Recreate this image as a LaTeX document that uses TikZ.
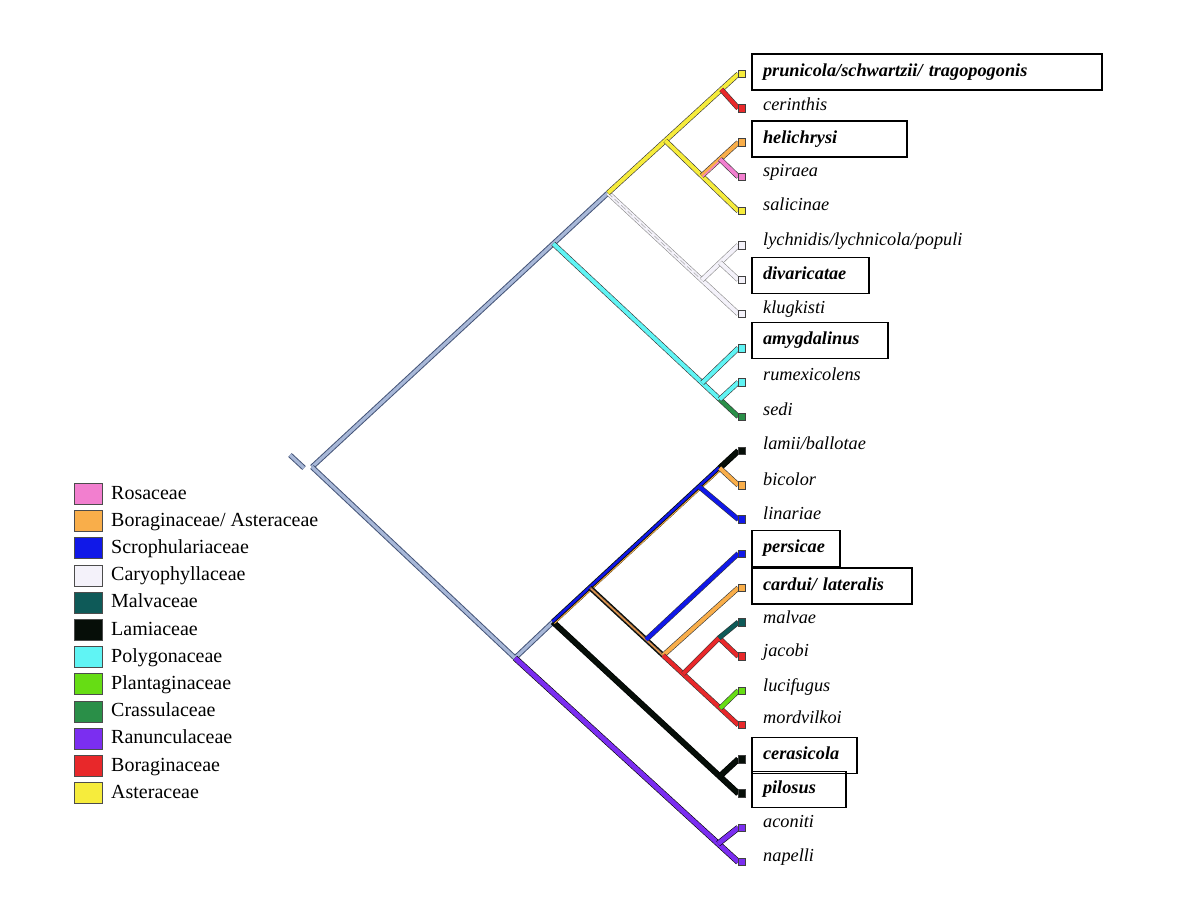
\documentclass[tikz,border=0pt]{standalone}
\usepackage{fontspec}
\setmainfont{Liberation Serif}
\usetikzlibrary{calc}
\definecolor{ros}{HTML}{F27FCF}
\definecolor{borast}{HTML}{F9AE4A}
\definecolor{scro}{HTML}{1018E8}
\definecolor{cary}{HTML}{F4F2FA}
\definecolor{malv}{HTML}{0E5A58}
\definecolor{lami}{HTML}{060E08}
\definecolor{poly}{HTML}{60F4F4}
\definecolor{plan}{HTML}{66DD14}
\definecolor{cras}{HTML}{2A8F48}
\definecolor{ranu}{HTML}{7B2EF0}
\definecolor{bora}{HTML}{E8282A}
\definecolor{aste}{HTML}{F6EC3C}
\definecolor{mainbl}{HTML}{A8B8D8}
\definecolor{maindk}{HTML}{445478}
\definecolor{mixbr}{HTML}{8A5A48}
\begin{document}
\begin{tikzpicture}[x=1pt,y=-1pt,
 br/.style={draw=black!80, line width=0.6pt, double=#1, double distance=4.0pt, line join=round},
 brk/.style={draw=black, line width=0.6pt, double=#1, double distance=4.8pt, line join=round},
 brw/.style={draw=black!45, line width=0.6pt, double=cary, double distance=4.0pt, line join=round},
 mainbr/.style={draw=maindk, line width=1pt, double=mainbl, double distance=3.2pt, line join=round},
 leaf/.style={draw=black!75, line width=0.7pt, fill=#1, minimum size=7.5pt, inner sep=0pt, outer sep=0pt},
 lab/.style={font=\fontsize{18.3}{20}\selectfont\itshape, anchor=west, inner sep=0pt, text height=12pt, text depth=4pt},
 blab/.style={draw, line width=1.6pt, font=\fontsize{18.3}{20}\selectfont\bfseries\itshape, inner xsep=11pt, inner ysep=0pt, text height=12pt, text depth=4pt, align=left, minimum height=36pt},
 sw/.style={draw=black!70, line width=1.1pt, fill=#1, minimum width=28pt, minimum height=21pt, inner sep=0pt},
 leg/.style={font=\fontsize{20}{22}\selectfont, anchor=base west, inner sep=0pt}]
\useasboundingbox (0,0) rectangle (1200,900);

% ---------- leaf squares ----------
\node[leaf=aste] (pru) at (742,74.0) {};
\node[leaf=bora] (cer) at (742,108.3) {};
\node[leaf=borast] (hel) at (742,142.5) {};
\node[leaf=ros] (spi) at (742,176.8) {};
\node[leaf=aste] (sal) at (742,211.0) {};
\node[leaf=cary] (lyc) at (742,245.3) {};
\node[leaf=cary] (div) at (742,279.6) {};
\node[leaf=cary] (klu) at (742,313.8) {};
\node[leaf=poly] (amy) at (742,348.1) {};
\node[leaf=poly] (rum) at (742,382.3) {};
\node[leaf=cras] (sed) at (742,416.6) {};
\node[leaf=lami] (lam) at (742,450.9) {};
\node[leaf=borast] (bic) at (742,485.1) {};
\node[leaf=scro] (lin) at (742,519.4) {};
\node[leaf=scro] (per) at (742,553.6) {};
\node[leaf=borast] (car) at (742,587.9) {};
\node[leaf=malv] (mal) at (742,622.2) {};
\node[leaf=bora] (jac) at (742,656.4) {};
\node[leaf=plan] (luc) at (742,690.7) {};
\node[leaf=bora] (mor) at (742,724.9) {};
\node[leaf=lami] (cera) at (742,759.2) {};
\node[leaf=lami] (pil) at (742,793.5) {};
\node[leaf=ranu] (aco) at (742,827.7) {};
\node[leaf=ranu] (nap) at (742,862.0) {};

% ---------- internal nodes ----------
\coordinate (R) at (312,467);
\coordinate (A) at (608,193);
\coordinate (B) at ($(R)!0.815!(A)$);
\coordinate (Y2) at ($(A)!0.44!(pru.west)$);
\coordinate (Y1) at ($(A)!0.87!(pru.west)$);
\coordinate (Y3) at ($(Y2)!0.5!(sal.west)$);
\coordinate (Y4) at ($(Y3)!0.5!(hel.west)$);
\coordinate (W1) at ($(A)!0.72!(klu.west)$);
\coordinate (W2) at ($(W1)!0.5!(lyc.west)$);
\coordinate (C1) at ($(B)!0.805!(sed.west)$);
\coordinate (C2) at ($(B)!0.9!(sed.west)$);
\coordinate (D) at (515,658);
\coordinate (E) at (553,622);
\coordinate (L1) at ($(E)!0.9!(lam.west)$);
\coordinate (L2) at ($(E)!0.79!(lam.west)$);
\coordinate (F) at ($(E)!0.2!(lam.west)$);
\coordinate (H) at ($(F)!0.378!(mor.west)$);
\coordinate (G) at ($(F)!0.493!(mor.west)$);
\coordinate (I) at ($(F)!0.628!(mor.west)$);
\coordinate (K) at ($(F)!0.878!(mor.west)$);
\coordinate (J) at (719,638);
\coordinate (M) at ($(E)!0.9!(pil.west)$);
\coordinate (N) at ($(D)!0.91!(nap.west)$);
\coordinate (S1) at (290,455);
\coordinate (S2) at (304,468);

% ---------- main backbone ----------
\draw[mainbr] (S1) -- (S2);
\draw[mainbr] (R) -- (A);
\draw[mainbr] (R) -- (D) -- (E);

% ---------- upper clades ----------
\draw[brw] (A) -- (klu.west);
\draw[black!35, line width=0.5pt, dash pattern=on 6pt off 3pt] (A) -- (W1);
\draw[brw] (W1) -- (lyc.west);
\draw[brw] (W2) -- (div.west);
\draw[br=aste] (A) -- (pru.west);
\draw[br=bora] (Y1) -- (cer.west);
\draw[br=aste] (Y2) -- (sal.west);
\draw[br=borast] (Y3) -- (hel.west);
\draw[ros, line width=1.2pt] ($(Y3)+(0.9,0.9)$) -- ($(Y4)+(0.9,0.9)$);
\draw[br=ros] (Y4) -- (spi.west);
\draw[br=poly] (B) -- (C2);
\draw[br=cras] (C2) -- (sed.west);
\draw[br=poly] (C1) -- (amy.west);
\draw[br=poly] (C2) -- (rum.west);

% ---------- lower clades ----------
\draw[brk=ranu] (D) -- (nap.west);
\draw[brk=ranu] (N) -- (aco.west);
\draw[brk=lami] (E) -- (pil.west);
\draw[brk=lami] (M) -- (cera.west);
% composite E -> L1
\draw[lami, line width=5.6pt] (E) -- (L1);
\draw[scro, line width=2.6pt] ($(E)+(-0.5,-0.5)$) -- ($(L1)+(-0.5,-0.5)$);
\draw[borast, line width=0.9pt] ($(E)+(1.5,1.5)$) -- ($(L1)+(1.5,1.5)$);
\draw[brk=lami] (L1) -- (lam.west);
\draw[br=borast] (L1) -- (bic.west);
\draw[br=scro] (L2) -- (lin.west);
% composite F -> G
\draw[lami, line width=5pt] (F) -- (G);
\draw[mixbr, line width=2.4pt] (F) -- (G);
\draw[borast, line width=0.8pt] ($(F)+(1.2,1.2)$) -- ($(G)+(1.2,1.2)$);
\draw[br=scro] (H) -- (per.west);
\draw[br=borast] (G) -- (car.west);
\draw[br=bora] (G) -- (mor.west);
\draw[br=bora] (I) -- (J) -- (jac.west);
\draw[br=malv] (J) -- (mal.west);
\draw[br=plan] (K) -- (luc.west);

% redraw leaves on top
\foreach \n/\c in {pru/aste,cer/bora,hel/borast,spi/ros,sal/aste,lyc/cary,div/cary,klu/cary,amy/poly,rum/poly,sed/cras,lam/lami,bic/borast,lin/scro,per/scro,car/borast,mal/malv,jac/bora,luc/plan,mor/bora,cera/lami,pil/lami,aco/ranu,nap/ranu}
  \node[leaf=\c] at (\n) {};

% ---------- labels ----------
\node[blab, text width=328pt] (tpru) at (927,72) {prunicola/schwartzii/ tragopogonis};
\node[lab] (tcer) at (763,106.3) {cerinthis};
\node[blab, text width=133pt] (thel) at (829.5,139) {helichrysi};
\node[lab] (tspi) at (763,172.8) {spiraea};
\node[lab] (tsal) at (763,206.0) {salicinae};
\node[lab] (tlyc) at (763,241.3) {lychnidis/lychnicola/populi};
\node[blab, text width=95pt] (tdiv) at (810.5,275.5) {divaricatae};
\node[lab] (tklu) at (763,309.8) {klugkisti};
\node[blab, text width=114pt] (tamy) at (820,340.5) {amygdalinus};
\node[lab] (trum) at (763,376.3) {rumexicolens};
\node[lab] (tsed) at (763,411.6) {sedi};
\node[lab] (tlam) at (763,445.9) {lamii/ballotae};
\node[lab] (tbic) at (763,481.1) {bicolor};
\node[lab] (tlin) at (763,515.4) {linariae};
\node[blab, text width=66pt] (tper) at (796,548.5) {persicae};
\node[blab, text width=138pt] (tcar) at (832,586) {cardui/ lateralis};
\node[lab] (tmal) at (763,619.2) {malvae};
\node[lab] (tjac) at (763,652.4) {jacobi};
\node[lab] (tluc) at (763,687.7) {lucifugus};
\node[lab] (tmor) at (763,719.9) {mordvilkoi};
\node[blab, text width=83pt] (tcera) at (804.5,755.5) {cerasicola};
\node[blab, text width=72pt] (tpil) at (799,789.5) {pilosus};
\node[lab] (taco) at (763,823.7) {aconiti};
\node[lab] (tnap) at (763,857.0) {napelli};

% ---------- legend ----------
\foreach \i/\c/\t in {0/ros/{Rosaceae},1/borast/{Boraginaceae/ Asteraceae},2/scro/{Scrophulariaceae},3/cary/{Caryophyllaceae},4/malv/{Malvaceae},5/lami/{Lamiaceae},6/poly/{Polygonaceae},7/plan/{Plantaginaceae},8/cras/{Crassulaceae},9/ranu/{Ranunculaceae},10/bora/{Boraginaceae},11/aste/{Asteraceae}}{
  \node[sw=\c] (sw\i) at (88.5,494+27.2*\i) {};
  \node[leg] (lg\i) at (111,499+27.2*\i) {\t};
}
\end{tikzpicture}
\end{document}
